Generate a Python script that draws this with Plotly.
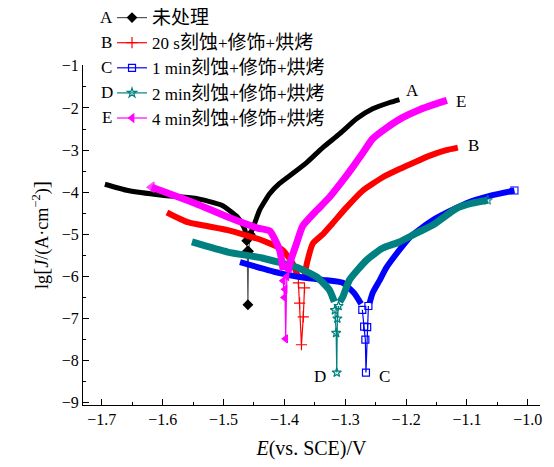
import plotly.graph_objects as go

# ---------------- data ----------------
# Curve A : untreated
A_cat_E = [-1.695, -1.657, -1.601, -1.547, -1.503, -1.477, -1.466, -1.461]
A_cat_J = [-3.81, -3.96, -4.07, -4.14, -4.31, -4.59, -4.85, -5.15]
A_dip_E = [-1.462, -1.461, -1.460, -1.459, -1.456]
A_dip_J = [-5.15, -5.40, -6.67, -5.40, -5.00]
A_an_E = [-1.456, -1.449, -1.441, -1.424, -1.408, -1.386, -1.363, -1.337,
          -1.309, -1.281, -1.255, -1.227, -1.211]
A_an_J = [-5.00, -4.74, -4.43, -4.03, -3.79, -3.55, -3.29, -2.94,
          -2.61, -2.25, -2.02, -1.87, -1.80]

# Curve B : 20 s etching
B_cat_E = [-1.593, -1.559, -1.493, -1.437, -1.403, -1.386, -1.378]
B_cat_J = [-4.48, -4.71, -4.90, -5.14, -5.37, -5.70, -6.00]
B_dip_E = [-1.377, -1.375, -1.372, -1.369, -1.367]
B_dip_J = [-6.15, -6.63, -7.62, -6.96, -6.27]
B_an_E = [-1.367, -1.363, -1.353, -1.337, -1.321, -1.298, -1.271, -1.239,
          -1.211, -1.185, -1.161, -1.134, -1.115]
B_an_J = [-6.00, -5.68, -5.21, -5.00, -4.74, -4.36, -3.96, -3.65,
          -3.45, -3.28, -3.13, -3.00, -2.94]

# Curve C : 1 min etching
C_cat_E = [-1.473, -1.408, -1.375, -1.337, -1.304, -1.285, -1.274]
C_cat_J = [-5.66, -5.92, -6.01, -6.08, -6.15, -6.40, -6.65]
C_dip_E = [-1.272, -1.269, -1.267, -1.266, -1.264, -1.262]
C_dip_J = [-6.79, -7.19, -7.50, -8.28, -7.20, -6.70]
C_an_E = [-1.260, -1.255, -1.243, -1.232, -1.194, -1.156, -1.101, -1.058, -1.022]
C_an_J = [-6.63, -6.39, -6.08, -5.78, -5.07, -4.66, -4.26, -4.07, -3.96]

# Curve D : 2 min etching
D_cat_E = [-1.552, -1.493, -1.437, -1.380, -1.347, -1.326, -1.318]
D_cat_J = [-5.18, -5.42, -5.56, -5.78, -6.01, -6.32, -6.60]
D_dip_E = [-1.317, -1.315, -1.314, -1.313, -1.311]
D_dip_J = [-6.80, -7.34, -8.28, -7.00, -6.70]
D_an_E = [-1.309, -1.304, -1.293, -1.265, -1.239, -1.211, -1.183, -1.156,
          -1.117, -1.091, -1.066]
D_an_J = [-6.60, -6.48, -6.08, -5.61, -5.33, -5.18, -4.97, -4.78,
          -4.38, -4.26, -4.19]

# Curve E : 4 min etching
E_cat_E = [-1.618, -1.547, -1.493, -1.444, -1.424, -1.408, -1.402]
E_cat_J = [-3.88, -4.26, -4.59, -4.85, -4.92, -5.37, -5.85]
E_dip_E = [-1.402, -1.400, -1.399, -1.398, -1.396]
E_dip_J = [-6.10, -6.50, -6.30, -7.48, -6.00]
E_an_E = [-1.394, -1.391, -1.380, -1.370, -1.347, -1.326, -1.304, -1.288,
          -1.271, -1.255, -1.232, -1.206, -1.178, -1.155, -1.133]
E_an_J = [-5.90, -5.68, -5.21, -4.80, -4.43, -4.12, -3.72, -3.41,
          -3.06, -2.73, -2.47, -2.23, -2.04, -1.92, -1.82]

labels = ["未处理", "20 s刻蚀+修饰+烘烤", "1 min刻蚀+修饰+烘烤",
          "2 min刻蚀+修饰+烘烤", "4 min刻蚀+修饰+烘烤"]
letters = ["A", "B", "C", "D", "E"]
colors = ["#000000", "#ff0000", "#0000ff", "#008080", "#ff00ff"]
symbols = ["diamond", "cross-thin", "square-open", "star-open", "triangle-left"]

x_ticks = [-1.7, -1.6, -1.5, -1.4, -1.3, -1.2, -1.1, -1.0]
y_ticks = [-9, -8, -7, -6, -5, -4, -3, -2, -1]

# curve end labels: (letter, E, lgJ)
end_labels = [("A", -1.189, -1.59), ("E", -1.110, -1.84), ("B", -1.090, -2.89),
              ("D", -1.342, -8.38), ("C", -1.235, -8.38)]

curves = [
    (A_cat_E, A_cat_J, A_dip_E, A_dip_J, A_an_E, A_an_J, 5),
    (B_cat_E, B_cat_J, B_dip_E, B_dip_J, B_an_E, B_an_J, 6),
    (C_cat_E, C_cat_J, C_dip_E, C_dip_J, C_an_E, C_an_J, 6),
    (D_cat_E, D_cat_J, D_dip_E, D_dip_J, D_an_E, D_an_J, 7),
    (E_cat_E, E_cat_J, E_dip_E, E_dip_J, E_an_E, E_an_J, 7),
]

SERIF = "Liberation Serif, Times New Roman, Noto Sans CJK SC, serif"


def legend_label(txt):
    # CJK glyphs in the original are wider than the Latin ones
    out = ""
    for ch in txt:
        if ord(ch) > 0x2E80:
            out += f"<span style='font-size:19px'>{ch}</span>"
        else:
            out += ch
    return out


fig = go.Figure()
for i, (ce, cj, de, dj, ae, aj, w) in enumerate(curves):
    col = colors[i]
    # thick bands (dense markers in the original)
    for k, (xe, yj) in enumerate(((ce, cj), (ae, aj))):
        sizes = [0] * len(xe)
        if i == 4 and k == 0:
            sizes[0] = 9          # visible start marker of E
        if i in (2, 3) and k == 1:
            sizes[-1] = 7         # visible end marker of C / D
        fig.add_trace(go.Scatter(x=xe, y=yj, mode="lines+markers",
                                 line=dict(color=col, width=w, shape="spline", smoothing=0.5),
                                 marker=dict(symbol=symbols[i], size=sizes, color=col,
                                             line=dict(color=col, width=1.5)),
                                 showlegend=False, hoverinfo="skip", legendgroup=letters[i]))
    # thin dip near corrosion potential, with markers
    msize = 7 if symbols[i] != "cross-thin" else 8
    fig.add_trace(go.Scatter(
        x=de, y=dj, mode="lines+markers", name=legend_label(labels[i]), legendgroup=letters[i],
        line=dict(color=col if i != 0 else "#555555", width=1.2),
        marker=dict(symbol=symbols[i], size=msize, color=col,
                    line=dict(color=col, width=1.2)),
    ))

annotations = []
for lt, xe, yj in end_labels:
    annotations.append(dict(x=xe, y=yj, xref="x", yref="y", text=lt,
                            showarrow=False, font=dict(family=SERIF, size=17, color="black")))
# letters in front of the legend entries
leg_rows = [1.141, 1.067, 0.994, 0.920, 0.847]
for lt, yy in zip(letters, leg_rows):
    annotations.append(dict(x=0.0525, y=yy, xref="paper", yref="paper", text=lt,
                            showarrow=False, xanchor="center", yanchor="middle",
                            font=dict(family=SERIF, size=17, color="black")))

# the page body adds an 8 px offset, so the figure is 8 px smaller
fig.update_layout(
    width=546, height=459,
    margin=dict(l=75, r=14, t=57, b=62, autoexpand=False),
    paper_bgcolor="white", plot_bgcolor="white",
    font=dict(family=SERIF, size=16, color="black"),
    showlegend=True,
    legend=dict(x=0.0635, y=1.191, xanchor="left", yanchor="top",
                bgcolor="rgba(0,0,0,0)", borderwidth=0,
                font=dict(family=SERIF, size=17, color="black"),
                itemwidth=30, traceorder="grouped", tracegroupgap=0),
    annotations=annotations,
    xaxis=dict(range=[-1.731, -0.980], tickvals=x_ticks,
               ticktext=[f"\u2212{abs(v):.1f}" for v in x_ticks],
               showline=True, linecolor="black", linewidth=1, mirror=False,
               ticks="inside", ticklen=6, tickcolor="black",
               minor=dict(ticks="inside", ticklen=3, dtick=0.05, tickcolor="black"),
               showgrid=False, zeroline=False,
               tickfont=dict(family=SERIF, size=16),
               title=dict(text="<i>E</i>(vs. SCE)/V", font=dict(family=SERIF, size=20), standoff=13)),
    yaxis=dict(range=[-9.05, -0.98], tickvals=y_ticks,
               ticktext=[f"\u2212{abs(v)}" for v in y_ticks],
               showline=True, linecolor="black", linewidth=1, mirror=False,
               ticks="inside", ticklen=6, tickcolor="black",
               minor=dict(ticks="inside", ticklen=3, dtick=0.5, tickcolor="black"),
               showgrid=False, zeroline=False,
               tickfont=dict(family=SERIF, size=16),
               title=dict(text="lg<span style='font-size:22px'>[</span><i>J</i>/(A·cm<sup>\u22122</sup>)<span style='font-size:22px'>]</span>",
                          font=dict(family=SERIF, size=18), standoff=8)),
)

fig.write_html("out.html")
